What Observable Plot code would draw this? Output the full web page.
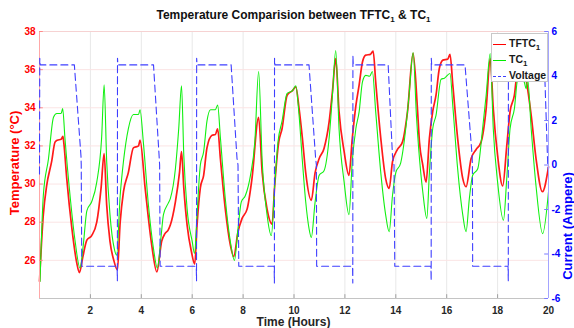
<!DOCTYPE html>
<html><head><meta charset="utf-8">
<script src="https://cdn.jsdelivr.net/npm/d3@7"></script>
<script src="https://cdn.jsdelivr.net/npm/@observablehq/plot@0.6"></script>
<style>
body{margin:0;background:#fff;font-family:"Liberation Sans",Arial,Helvetica,sans-serif;}
#wrap{position:relative;width:574px;height:328px;overflow:hidden;background:#fff;}
#wrap svg{position:absolute;left:0;top:0;}
.lbl{position:absolute;font-weight:bold;white-space:nowrap;line-height:12px;}
sub{font-size:8px;vertical-align:-3px;line-height:0;}
#title{top:9px;left:0;width:587px;text-align:center;font-size:12px;color:#111;}
#ylab{left:15px;top:163px;transform:translate(-50%,-50%) rotate(-90deg);font-size:13px;color:#ff0000;}
#y2lab{left:568px;top:226px;transform:translate(-50%,-50%) rotate(-90deg);font-size:13px;color:#0000ff;}
#xlab{top:316px;left:0;width:587px;text-align:center;font-size:12px;color:#262626;}
#legend{position:absolute;left:491px;top:33px;width:57px;height:49px;background:#fff;border:1px solid #c8c8c8;box-sizing:border-box;font-weight:bold;font-size:10.5px;color:#1a1a1a;}
#legend .row{position:absolute;left:1px;height:12px;line-height:12px;white-space:nowrap;}
#legend .sw{display:inline-block;width:13px;height:0;vertical-align:middle;margin-right:3px;}
</style></head>
<body>
<div id="wrap">
  <div id="title" class="lbl">Temperature Comparision between TFTC<sub>1</sub> &amp; TC<sub>1</sub></div>
  <div id="ylab" class="lbl">Temperature (°C)</div>
  <div id="y2lab" class="lbl">Current (Ampere)</div>
  <div id="xlab" class="lbl">Time (Hours)</div>
</div>
<script>
// ---- data ----
const xTicks = [2,4,6,8,10,12,14,16,18,20];
const tempTicks = [26,28,30,32,34,36,38];
const currentTicks = [-6,-4,-2,0,2,4,6];

// TFTC1 (red) [time h, temperature °C]
const tftc = [[0.0,24.9],[0.15,28.4],[0.28,29.9],[0.48,31.2],[0.61,32.2],[0.70,32.3],[0.85,32.35],[0.92,32.5],[0.96,32.1],[1.07,30.3],[1.27,27.7],[1.46,25.9],[1.57,25.36],[1.69,26.1],[1.86,27.06],[2.05,27.3],[2.25,28.0],[2.42,29.8],[2.54,31.6],[2.64,28.9],[2.77,27.0],[2.92,26.0],[3.06,25.5],[3.17,28.0],[3.30,29.6],[3.49,30.6],[3.69,31.9],[3.89,32.0],[3.95,32.3],[4.15,29.8],[4.41,26.8],[4.61,25.4],[4.80,27.0],[4.93,27.4],[5.06,27.6],[5.14,27.85],[5.34,29.07],[5.50,30.6],[5.58,31.7],[5.67,29.8],[5.80,27.85],[5.97,26.45],[6.10,25.8],[6.19,27.85],[6.32,29.8],[6.45,30.46],[6.58,31.9],[6.78,32.56],[6.91,32.6],[7.00,32.9],[7.11,31.3],[7.30,28.7],[7.50,26.8],[7.63,26.2],[7.80,27.5],[7.96,28.2],[8.16,28.7],[8.35,30.3],[8.61,33.5],[8.75,30.6],[8.94,28.7],[9.14,27.9],[9.24,29.9],[9.40,32.2],[9.53,32.9],[9.73,34.66],[9.94,34.9],[10.07,35.1],[10.20,33.96],[10.33,32.4],[10.46,30.6],[10.68,29.15],[10.83,30.6],[10.99,31.34],[11.18,31.87],[11.38,33.26],[11.51,34.84],[11.64,36.58],[11.77,33.8],[11.97,31.7],[12.16,30.46],[12.29,32.4],[12.43,34.1],[12.56,35.2],[12.69,36.4],[12.82,36.76],[13.00,36.8],[13.11,36.97],[13.21,35.36],[13.41,32.4],[13.60,30.3],[13.74,29.77],[13.87,31.17],[14.06,31.8],[14.26,32.2],[14.46,33.8],[14.68,36.85],[14.85,33.96],[14.93,32.2],[15.06,31.0],[15.19,30.1],[15.32,32.4],[15.45,33.8],[15.58,34.66],[15.71,36.06],[15.85,36.5],[16.04,36.55],[16.13,36.8],[16.24,35.2],[16.43,32.4],[16.63,30.3],[16.76,29.86],[16.96,31.34],[17.15,31.8],[17.35,32.2],[17.55,33.96],[17.71,36.58],[17.83,33.96],[18.00,31.5],[18.20,29.9],[18.36,32.0],[18.49,33.8],[18.66,34.66],[18.79,36.06],[18.99,36.4],[19.12,35.5],[19.32,33.6],[19.51,31.34],[19.76,29.6],[20.0,30.9]];

// TC1 (green) [time h, temperature °C]
const tc = [[0.02,24.9],[0.15,29.4],[0.35,31.3],[0.55,33.5],[0.68,33.7],[0.85,33.7],[0.91,33.96],[1.00,32.4],[1.20,29.4],[1.40,27.0],[1.59,25.6],[1.72,26.8],[1.86,28.6],[2.05,29.07],[2.25,30.1],[2.44,32.4],[2.54,35.2],[2.64,31.2],[2.77,28.4],[2.94,26.6],[3.03,26.27],[3.17,29.4],[3.30,31.2],[3.49,32.9],[3.69,33.65],[3.89,33.65],[3.95,33.9],[4.08,32.2],[4.28,28.9],[4.48,26.6],[4.63,25.6],[4.78,27.3],[4.87,28.4],[5.06,29.0],[5.14,29.24],[5.34,30.8],[5.47,32.9],[5.58,35.15],[5.67,31.5],[5.80,28.7],[6.00,27.0],[6.09,26.36],[6.19,28.4],[6.32,31.0],[6.45,31.7],[6.58,33.3],[6.72,33.9],[6.91,33.9],[7.00,34.14],[7.11,32.4],[7.30,29.24],[7.50,26.97],[7.66,26.0],[7.80,27.67],[7.93,29.07],[8.09,29.4],[8.29,30.46],[8.46,32.2],[8.61,35.9],[8.75,31.2],[8.94,28.4],[9.11,27.3],[9.24,29.9],[9.37,32.2],[9.53,33.3],[9.73,34.75],[9.94,34.9],[10.07,35.15],[10.20,33.6],[10.33,31.2],[10.46,29.07],[10.59,27.67],[10.68,27.2],[10.83,29.07],[10.99,30.46],[11.18,30.7],[11.38,32.4],[11.51,34.66],[11.64,37.0],[11.77,32.9],[11.97,30.1],[12.16,28.4],[12.29,31.2],[12.43,32.9],[12.56,33.8],[12.69,35.36],[12.82,35.7],[12.97,35.65],[13.08,35.9],[13.21,33.8],[13.41,30.6],[13.60,28.4],[13.74,27.5],[13.87,29.4],[14.00,30.6],[14.19,31.1],[14.39,32.9],[14.52,34.66],[14.68,36.9],[14.81,33.6],[14.98,30.6],[15.06,29.6],[15.22,28.2],[15.32,30.6],[15.45,32.9],[15.58,33.6],[15.78,35.5],[15.91,35.55],[16.13,35.8],[16.24,34.1],[16.43,30.8],[16.63,28.4],[16.76,27.5],[16.89,29.24],[17.02,30.46],[17.22,30.8],[17.41,32.9],[17.55,34.66],[17.71,36.85],[17.83,32.9],[18.00,30.1],[18.23,28.1],[18.36,30.3],[18.49,32.9],[18.66,33.96],[18.79,35.5],[18.92,35.6],[19.06,35.3],[19.12,35.0],[19.18,35.5],[19.32,32.9],[19.51,29.9],[19.77,27.4],[20.0,29.6]];

// Voltage (blue dashed, right axis) [time h, current A]
const voltage = [[0.0,-0.4],[0.01,4.8],[0.03,4.5],[1.37,4.5],[1.63,0.4],[1.64,0.0],[1.66,-4.55],[3.05,-4.55],[3.06,-5.2],[3.065,4.8],[3.08,4.5],[4.48,4.5],[4.70,0.4],[4.72,0.0],[4.74,-4.55],[6.16,-4.55],[6.17,-5.2],[6.175,4.8],[6.19,4.5],[7.53,4.5],[7.76,0.3],[7.80,0.0],[7.83,-4.55],[9.22,-4.55],[9.23,-5.3],[9.235,4.8],[9.25,4.5],[10.59,4.5],[10.85,0.3],[10.88,0.0],[10.89,-4.55],[12.30,-4.55],[12.31,-5.3],[12.315,4.9],[12.33,4.5],[13.70,4.5],[13.87,0.4],[13.93,0.0],[13.96,-4.55],[15.38,-4.55],[15.39,-5.2],[15.395,4.8],[15.41,4.5],[16.72,4.5],[17.00,0.4],[17.01,0.0],[17.02,-4.55],[18.41,-4.55],[18.42,-5.2],[18.425,4.8],[18.44,4.5],[19.84,4.5],[19.97,0.0],[20.0,-0.3]];

// ---- chart ----
const FONT = '"Liberation Sans", Arial, Helvetica, sans-serif';
const common = {
  width: 574, height: 328,
  marginLeft: 39, marginRight: 26, marginTop: 31, marginBottom: 30,
  style: {fontFamily: FONT, fontSize: "10px", fontWeight: "bold", background: "transparent", overflow: "visible"}
};
const rows = a => a.map(([t, v]) => ({t, v}));

const pTemp = Plot.plot({
  ...common,
  x: {domain: [0, 20]},
  y: {domain: [24, 38]},
  marks: [
    Plot.gridX(xTicks.slice(0, -1), {stroke: "#e8e8e8", strokeOpacity: 1}),
    Plot.gridY(tempTicks.slice(0, -1), {stroke: "#fbe4e4", strokeOpacity: 1}),
    Plot.line(rows(tftc), {x: "t", y: "v", stroke: "#ff1a1a", strokeWidth: 1.7, curve: "monotone-x"}),
    Plot.line(rows(tc), {x: "t", y: "v", stroke: "#11f011", strokeWidth: 1.1, curve: "monotone-x"}),
    Plot.ruleY([38], {stroke: "#f6d2d2"}),
    Plot.ruleY([24], {stroke: "#c4c4c4"}),
    Plot.ruleX([0], {stroke: "#ffa8a8"}),
    Plot.ruleX(xTicks, {y1: 24, y2: 24.2, stroke: "#a0a0a0"}),
    Plot.ruleY(tempTicks, {x1: 0, x2: 0.15, stroke: "#ff8a8a"}),
    Plot.axisX(xTicks, {tickSize: 0, tickPadding: 8, color: "#262626", fontSize: 10, fontWeight: "bold", label: null, tickFormat: d => String(d)}),
    Plot.axisY(tempTicks, {tickSize: 0, tickPadding: 4, color: "#ff0000", fontSize: 10, fontWeight: "bold", label: null, tickFormat: d => String(d)})
  ]
});

const pCur = Plot.plot({
  ...common,
  x: {domain: [0, 20], axis: null},
  y: {domain: [-6, 6]},
  marks: [
    Plot.line(rows(voltage), {x: "t", y: "v", stroke: "#3f3fff", strokeWidth: 1.1, strokeDasharray: "7,4"}),
    Plot.ruleX([20], {stroke: "#a4a4ff"}),
    Plot.ruleY(currentTicks, {x1: 19.85, x2: 20, stroke: "#7a7aff"}),
    Plot.axisY(currentTicks, {anchor: "right", tickSize: 0, tickPadding: 3, color: "#0000ff", fontSize: 10, fontWeight: "bold", label: null, tickFormat: d => String(d)})
  ]
});

const wrap = document.getElementById("wrap");
wrap.prepend(pCur);
wrap.prepend(pTemp);

// legend
const legend = document.createElement("div");
legend.id = "legend";
legend.innerHTML =
  '<div class="row" style="top:3px"><span class="sw" style="border-top:1.5px solid #ff0000"></span>TFTC<sub>1</sub></div>' +
  '<div class="row" style="top:19px"><span class="sw" style="border-top:1.5px solid #00ee00"></span>TC<sub>1</sub></div>' +
  '<div class="row" style="top:35px"><span class="sw" style="border-top:1.5px dashed #3f3fff"></span>Voltage</div>';
wrap.appendChild(legend);
</script>
</body></html>
